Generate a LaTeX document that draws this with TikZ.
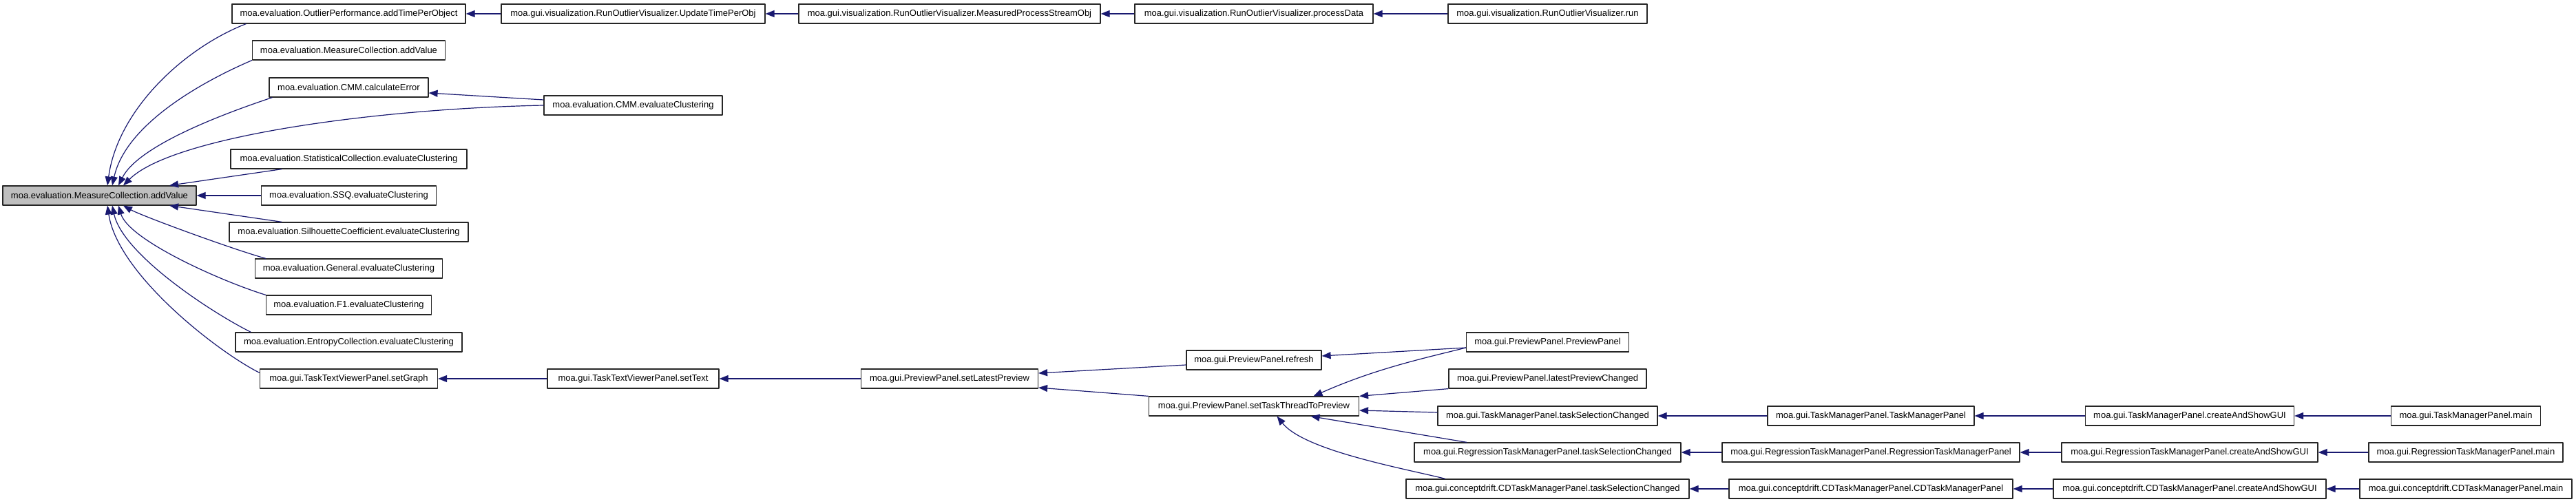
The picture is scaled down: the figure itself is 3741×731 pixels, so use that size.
\documentclass[tikz,border=0pt]{standalone}
\usepackage{fontspec}
\setmainfont{Liberation Sans}
\usetikzlibrary{arrows.meta}
\definecolor{midnightblue}{RGB}{25,25,112}
\definecolor{rootgray}{RGB}{191,191,191}
\begin{document}
\begin{tikzpicture}[x=1pt, y=1pt, line join=round,
	>={Triangle[length=13pt,width=10pt]},
	fn/.style={draw=black!85, fill=white, line width=1.2pt, inner sep=0pt,
		minimum height=28pt, font=\fontsize{13pt}{15pt}\selectfont},
	call/.style={->, draw=midnightblue, line width=1.2pt}]
	\def\cA{144.5} \def\cB{506.5} \def\cC{919.5} % cot
	\def\cD{1379} \def\cE{1821} \def\cF{2247.5}
	\def\cG{2717} \def\cH{3180} \def\cI{3581}
	
	\useasboundingbox (0,0) rectangle (3741,731);
	
	% goc
	\node[fn, fill=rootgray, minimum width=281pt] (root) at (\cA,447) {moa.evaluation.MeasureCollection.addValue};
	
	\node[fn, minimum width=339pt] (opa) at (\cB,711) {moa.evaluation.OutlierPerformance.addTimePerObject};
	\node[fn, minimum width=280pt] (mcav) at (\cB,658) {moa.evaluation.MeasureCollection.addValue};
	\node[fn, minimum width=231pt] (cmmerr) at (\cB,604) {moa.evaluation.CMM.calculateError};
	\node[fn, minimum width=343pt] (stat) at (\cB,500) {moa.evaluation.StatisticalCollection.evaluateClustering};
	\node[fn, minimum width=254pt] (ssq) at (\cB,447) {moa.evaluation.SSQ.evaluateClustering};
	\node[fn, minimum width=347pt] (sil) at (\cB,394) {moa.evaluation.SilhouetteCoefficient.evaluateClustering};
	\node[fn, minimum width=272pt] (gen) at (\cB,341) {moa.evaluation.General.evaluateClustering};
	\node[fn, minimum width=240pt] (fone) at (\cB,288) {moa.evaluation.F1.evaluateClustering};
	\node[fn, minimum width=329pt] (ent) at (\cB,234) {moa.evaluation.EntropyCollection.evaluateClustering};
	\node[fn, minimum width=258pt] (setgraph) at (\cB,181) {moa.gui.TaskTextViewerPanel.setGraph};
	
	\node[fn, minimum width=383pt] (utpo) at (\cC,711) {moa.gui.visualization.RunOutlierVisualizer.UpdateTimePerObj};
	\node[fn, minimum width=259pt] (cmmeval) at (\cC,578) {moa.evaluation.CMM.evaluateClustering};
	\node[fn, minimum width=249pt] (settext) at (\cC,181) {moa.gui.TaskTextViewerPanel.setText};
	
	\node[fn, minimum width=438pt] (mpso) at (\cD,711) {moa.gui.visualization.RunOutlierVisualizer.MeasuredProcessStreamObj};
	\node[fn, minimum width=257pt] (setlatest) at (\cD,181) {moa.gui.PreviewPanel.setLatestPreview};
	
	\node[fn, minimum width=346pt] (procdata) at (\cE,711) {moa.gui.visualization.RunOutlierVisualizer.processData};
	\node[fn, minimum width=196pt] (refresh) at (\cE,208) {moa.gui.PreviewPanel.refresh};
	\node[fn, minimum width=305pt] (setthread) at (\cE,141) {moa.gui.PreviewPanel.setTaskThreadToPreview};
	
	\node[fn, minimum width=289pt] (run) at (\cF,711) {moa.gui.visualization.RunOutlierVisualizer.run};
	\node[fn, minimum width=236pt] (ppanel) at (\cF,234) {moa.gui.PreviewPanel.PreviewPanel};
	\node[fn, minimum width=287pt] (lpc) at (\cF,181) {moa.gui.PreviewPanel.latestPreviewChanged};
	\node[fn, minimum width=319pt] (tmtsc) at (\cF,127) {moa.gui.TaskManagerPanel.taskSelectionChanged};
	\node[fn, minimum width=387pt] (rtsc) at (\cF,74) {moa.gui.RegressionTaskManagerPanel.taskSelectionChanged};
	\node[fn, minimum width=411pt] (cdtsc) at (\cF,21) {moa.gui.conceptdrift.CDTaskManagerPanel.taskSelectionChanged};
	
	\node[fn, minimum width=300pt] (tmtm) at (\cG,127) {moa.gui.TaskManagerPanel.TaskManagerPanel};
	\node[fn, minimum width=432pt] (rtm) at (\cG,74) {moa.gui.RegressionTaskManagerPanel.RegressionTaskManagerPanel};
	\node[fn, minimum width=412pt] (cdtm) at (\cG,21) {moa.gui.conceptdrift.CDTaskManagerPanel.CDTaskManagerPanel};
	
	\node[fn, minimum width=303pt] (tmgui) at (\cH,127) {moa.gui.TaskManagerPanel.createAndShowGUI};
	\node[fn, minimum width=372pt] (rgui) at (\cH,74) {moa.gui.RegressionTaskManagerPanel.createAndShowGUI};
	\node[fn, minimum width=396pt] (cdgui) at (\cH,21) {moa.gui.conceptdrift.CDTaskManagerPanel.createAndShowGUI};
	
	\node[fn, minimum width=217pt] (tmmain) at (\cI,127) {moa.gui.TaskManagerPanel.main};
	\node[fn, minimum width=282pt] (rmain) at (\cI,74) {moa.gui.RegressionTaskManagerPanel.main};
	\node[fn, minimum width=308pt] (cdmain) at (\cI,21) {moa.gui.conceptdrift.CDTaskManagerPanel.main};
	
	% cac canh vao goc
	\draw[call] ([xshift=21pt]opa.south west) .. controls +(-90,-35) and +(15,110) .. ([xshift=11.5pt]root.north);
	\draw[call] (mcav.south west) .. controls +(-70,-30) and +(20,90) .. ([xshift=18.5pt]root.north);
	\draw[call] ([xshift=5pt]cmmerr.south west) .. controls +(-60,-20) and +(30,60) .. ([xshift=27.5pt]root.north);
	\draw[call] (cmmeval.west) .. controls +(-250,-5) and +(70,70) .. ([xshift=34.5pt]root.north);
	\draw[call] ([xshift=75pt]stat.south west) -- ([xshift=101.5pt]root.north);
	\draw[call] (ssq) -- (root);
	\draw[call] ([xshift=77pt]sil.north west) -- ([xshift=101.5pt]root.south);
	\draw[call] ([xshift=16pt]gen.north west) .. controls +(-50,14) and +(27,-15) .. ([xshift=34.5pt]root.south);
	\draw[call] (fone.north west) .. controls +(-65,20) and +(15,-50) .. ([xshift=27.5pt]root.south);
	\draw[call] ([xshift=23pt]ent.north west) .. controls +(-60,30) and +(15,-70) .. ([xshift=18.5pt]root.south);
	\draw[call] ([yshift=-6pt]setgraph.north west) .. controls +(-60,30) and +(15,-100) .. ([xshift=11.5pt]root.south);
	\draw[call] ([yshift=8pt]cmmeval.west) -- ([yshift=-8pt]cmmerr.east);
	
	% hang tren
	\draw[call] (utpo) -- (opa);
	\draw[call] (mpso) -- (utpo);
	\draw[call] (procdata) -- (mpso);
	\draw[call] (run) -- (procdata);
	
	% hang duoi
	\draw[call] (settext) -- (setgraph);
	\draw[call] (setlatest) -- (settext);
	\draw[call] ([yshift=-7pt]refresh.west) -- ([yshift=8pt]setlatest.east);
	\draw[call] (setthread.north west) -- ([yshift=-13pt]setlatest.east);
	\draw[call] ([yshift=-8pt]ppanel.west) -- ([yshift=6pt]refresh.east);
	\draw[call] ([yshift=-8pt]ppanel.west) .. controls +(-60,-15) and +(90,40) .. ([xshift=86.5pt]setthread.north);
	\draw[call] (lpc.south west) -- (setthread.north east);
	\draw[call] ([yshift=5pt]tmtsc.west) -- ([yshift=-6pt]setthread.east);
	\draw[call] ([xshift=-117.5pt]rtsc.north) -- ([xshift=82.5pt]setthread.south);
	\draw[call] ([xshift=-148.5pt]cdtsc.north) .. controls +(-60,15) and +(40,-50) .. ([xshift=33.5pt]setthread.south);
	
	\draw[call] (tmtm) -- (tmtsc);
	\draw[call] (tmgui) -- (tmtm);
	\draw[call] (tmmain) -- (tmgui);
	\draw[call] (rtm) -- (rtsc);
	\draw[call] (rgui) -- (rtm);
	\draw[call] (rmain) -- (rgui);
	\draw[call] (cdtm) -- (cdtsc);
	\draw[call] (cdgui) -- (cdtm);
	\draw[call] (cdmain) -- (cdgui);
\end{tikzpicture}
\end{document}
